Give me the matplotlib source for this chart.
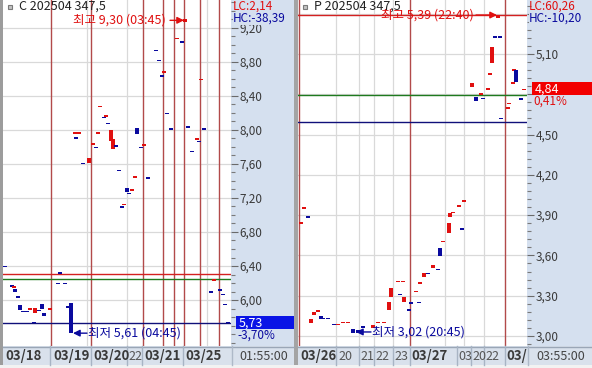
import matplotlib
matplotlib.use('Agg')
import matplotlib.pyplot as plt
from matplotlib.patches import Rectangle
from matplotlib.ticker import MultipleLocator, FixedLocator, FuncFormatter, NullLocator
from matplotlib.transforms import blended_transform_factory
from matplotlib.lines import Line2D

plt.rcParams['font.family'] = ['Noto Sans CJK KR', 'DejaVu Sans']

# ---------------- DATA ----------------
# Call option C 202504 347.5 (bar index, open, close)
call_title = "C 202504 347,5"
call_bar = [2, 9, 11, 12, 15, 17, 20, 24, 27, 31, 32, 36, 39, 41, 47, 55, 57, 62, 65, 68,
            72, 73, 76, 80, 86, 90, 93, 95, 97, 101, 103, 105, 108, 110, 113, 116, 119, 121,
            124, 126, 129, 132, 134, 138, 141, 145, 153, 156, 159, 161, 164, 168, 174, 179,
            182, 185, 189, 194, 196, 198, 201, 208, 211, 217, 220, 222, 225]
call_open = [6.40, 6.17, 6.15, 6.13, 6.04, 5.94, 5.87, 5.87, 5.89, 5.74, 5.85, 5.88, 5.95, 5.85,
             5.89, 6.20, 6.32, 6.20, 5.92, 5.96,
             7.96, 7.91, 7.96, 7.61, 7.61, 7.83, 7.80, 7.96, 8.27, 8.15, 8.16, 8.08, 7.87, 7.78,
             7.82, 7.53, 7.10, 7.12, 7.32, 7.26, 7.29, 7.44, 8.02, 7.80, 7.82, 7.44, 8.94, 8.82,
             8.64, 8.68, 8.20, 8.02, 9.07, 9.04, 9.27, 8.04, 7.75, 7.89, 7.87, 8.59, 8.02, 6.10,
             6.23, 6.12, 6.07, 5.95, 5.74]
call_close = [6.39, 6.16, 6.16, 6.10, 6.03, 5.88, 5.86, 5.86, 5.90, 5.73, 5.91, 5.87, 5.90, 5.81,
              5.90, 6.19, 6.31, 6.19, 5.91, 5.61,
              7.97, 7.90, 7.97, 7.60, 7.67, 7.84, 7.79, 7.97, 8.28, 8.14, 8.17, 8.07, 8.00, 7.89,
              7.81, 7.52, 7.09, 7.13, 7.27, 7.25, 7.30, 7.45, 7.95, 7.79, 7.83, 7.43, 8.93, 8.81,
              8.63, 8.69, 8.19, 8.01, 9.08, 9.03, 9.30, 8.03, 7.74, 7.90, 7.86, 8.60, 8.01, 6.09,
              6.24, 6.11, 6.06, 5.94, 5.73]
call_session_lines = [48, 88, 140, 160, 171, 181, 197, 216]
call_grid_x = [84, 124, 204]
call_red_level, call_green_level, call_navy_level = 6.305, 6.245, 5.73
call_high, call_high_bar, call_high_time = 9.30, 182, "03:45"
call_low, call_low_bar, call_low_time = 5.61, 68, "04:45"
call_last, call_change = 5.73, "-3,70%"
call_lc, call_hc = "LC:2,14", "HC:-38,39"
call_time = "01:55:00"
call_xlabels = [("03/18", 2, True), ("03/19", 50, True), ("03/20", 90, True),
                ("22", 125, False), ("03/21", 141, True), ("03/25", 182, True)]
call_xseps = [47, 88, 124, 139, 180]

# Put option P 202504 347.5
put_title = "P 202504 347,5"
put_bar = [3, 6, 10, 13, 16, 20, 23, 25, 30, 36, 40, 45, 50, 55, 60, 65, 75, 80, 86, 91, 93,
           100, 102, 105, 106, 111, 113, 118, 121, 122, 126, 130, 135, 140, 142, 145, 151, 152,
           155, 161, 164, 166, 174, 178, 183, 185, 190, 192, 194, 197, 200, 202, 203, 210, 211,
           215, 216, 218, 223, 226]
put_open = [3.835, 3.95, 3.89, 3.10, 3.16, 3.18, 3.15, 3.135, 3.135, 3.09, 3.08, 3.095, 3.095,
            3.05, 3.045, 3.07, 3.06, 3.095, 3.095, 3.19, 3.29,
            3.40, 3.315, 3.40, 3.25, 3.20, 3.25, 3.325, 3.255, 3.39, 3.44, 3.47, 3.505, 3.50,
            3.655, 3.70, 3.77, 3.885, 3.915, 3.965, 3.80, 4.00, 4.855, 4.78, 4.795, 4.775,
            4.835, 4.945, 5.03, 5.23, 5.37, 5.23, 4.625, 4.695, 4.725, 4.88, 4.975, 4.98, 4.77,
            4.83]
put_close = [3.845, 3.96, 3.88, 3.13, 3.18, 3.19, 3.13, 3.125, 3.125, 3.08, 3.09, 3.105, 3.105,
             3.02, 3.02, 3.06, 3.08, 3.105, 3.105, 3.25, 3.36,
             3.41, 3.305, 3.41, 3.29, 3.19, 3.24, 3.335, 3.245, 3.40, 3.47, 3.46, 3.53, 3.49,
             3.595, 3.71, 3.84, 3.915, 3.925, 3.975, 3.79, 4.01, 4.885, 4.75, 4.805, 4.765,
             4.845, 4.955, 5.15, 5.22, 5.39, 5.22, 4.615, 4.705, 4.735, 4.89, 4.985, 4.89, 4.76,
             4.84]
put_session_lines = [1, 112, 207]
put_grid_x = [38, 61, 76, 95, 147, 166, 186]
put_red_level, put_green_level, put_navy_level = 5.39, 4.795, 4.595
put_high, put_high_bar, put_high_time = 5.39, 200, "22:40"
put_low, put_low_bar, put_low_time = 3.02, 60, "20:45"
put_last, put_change = 4.84, "0,41%"
put_lc, put_hc = "LC:60,26", "HC:-10,20"
put_time = "03:55:00"
put_xlabels = [("03/26", 2, True), ("20", 40, False), ("21", 62, False), ("22", 77, False),
               ("23", 96, False), ("03/27", 113, True), ("03", 160, False), ("20", 174, False),
               ("22", 187, False), ("03/", 208, True)]
put_xseps = [38, 61, 76, 95, 112, 159, 173, 186, 207]

# ---------------- STYLE / LAYOUT ----------------
W, H = 592, 368
RED = '#E01010'
NAVY = '#0A0A9E'
SESSION = '#B24A4A'
GRID = '#D9D9D9'
STRIP = '#D5E0EF'
BSTRIP = '#D9E1EC'

def fx(px):
    return px / W

def fy(py):
    return 1 - py / H

fig = plt.figure(figsize=(W / 100, H / 100), dpi=100)
fig.patch.set_facecolor('#EFEFEF')

def frect(x0, y0, x1, y1, color, z=-1, ec='none', lw=0):
    fig.patches.append(Rectangle((fx(x0), fy(y1)), fx(x1) - fx(x0), fy(y0) - fy(y1),
                                 transform=fig.transFigure, facecolor=color,
                                 edgecolor=ec, linewidth=lw, zorder=z))

def fline(x0, y0, x1, y1, color, lw=1, z=-0.5):
    fig.lines.append(Line2D([fx(x0), fx(x1)], [fy(y0), fy(y1)], transform=fig.transFigure,
                            color=color, linewidth=lw, zorder=z))

PLOT_BOTTOM = 346
panels = [(3, 231, 294), (298, 527, 592)]
for x0, x1, x2 in panels:
    frect(x1, 0, x2, PLOT_BOTTOM, STRIP)
    frect(x0, PLOT_BOTTOM, x2, 365, BSTRIP)
    fline(x0, PLOT_BOTTOM + 0.5, x2, PLOT_BOTTOM + 0.5, '#9AA6B6', 1)
    fline(x1 + 0.5, PLOT_BOTTOM, x1 + 0.5, 365, '#AEB9C8', 1)
frect(0, 0, 3, 368, '#9C9C9C')
frect(294, 0, 298, 368, '#A4A4A4')
frect(0, 365, 592, 368, '#F2F2F2')

def comma(v, nd=2):
    return f"{v:.{nd}f}".replace('.', ',')

def make_panel(x0, x1, xmax, ylim, major, minor, bars, opens, closes, sessions, gridx,
               levels, hi, hi_bar, hi_time, lo, lo_bar, lo_time, hi_geom, lo_geom,
               title, title_px, lc, hc, last, change, box_color, change_color,
               xlabels, xseps, tlabel, strip_x1, hidden_labels):
    ax = fig.add_axes([fx(x0), fy(PLOT_BOTTOM), fx(x1) - fx(x0), fy(0) - fy(PLOT_BOTTOM)])
    ax.set_facecolor('white')
    ax.set_xlim(0, xmax)
    ax.set_ylim(*ylim)
    for s in ax.spines.values():
        s.set_visible(False)
    ax.xaxis.set_major_locator(NullLocator())
    ax.yaxis.tick_right()
    ticks = []
    t = major[0]
    while t <= major[1] + 1e-9:
        ticks.append(round(t, 4))
        t += major[2]
    ax.yaxis.set_major_locator(FixedLocator(ticks))
    ax.yaxis.set_minor_locator(MultipleLocator(minor))
    ax.yaxis.set_major_formatter(FuncFormatter(
        lambda v, p: '' if any(abs(v - h) < 1e-6 for h in hidden_labels) else comma(v)))
    ax.tick_params(axis='y', which='major', direction='out', length=5, width=0.8,
                   colors='#6A6A6A', labelcolor='#3A3A3A', labelsize=8.5, pad=1)
    ax.tick_params(axis='y', which='minor', direction='out', length=3, width=0.8,
                   colors='#7A7A7A')
    for tv in ticks:
        ax.axhline(tv, color=GRID, lw=0.9, zorder=1)
    for gx in gridx:
        ax.axvline(gx, color=GRID, lw=0.9, zorder=1)
    for sx in sessions:
        ax.axvline(sx, color=SESSION, lw=1, zorder=2)
    ax.axhline(levels[0], color='#D42020', lw=1, zorder=3)
    ax.axhline(levels[1], color='#1E7A1E', lw=1, zorder=3)
    ax.axhline(levels[2], color='#10107A', lw=1, zorder=3)

    unit = (ylim[1] - ylim[0]) / PLOT_BOTTOM
    bott, hts, cols = [], [], []
    for o, c in zip(opens, closes):
        lo_v, hi_v = min(o, c), max(o, c)
        h = max(hi_v - lo_v, unit * 1.6)
        mid = (lo_v + hi_v) / 2
        bott.append(mid - h / 2)
        hts.append(h)
        cols.append(RED if c >= o else NAVY)
    ax.bar(bars, hts, bottom=bott, width=3.6, color=cols, linewidth=0, zorder=5)

    # high / low annotations
    hx, hy, harr, htxt = hi_geom
    ax.annotate('', xy=(hi_bar + hx, hi + hy), xytext=(harr, 0), textcoords='offset pixels',
                arrowprops=dict(arrowstyle='-|>', color=RED, lw=1, mutation_scale=10,
                                shrinkA=0, shrinkB=0), zorder=6)
    ax.annotate(f"최고 {comma(hi)} ({hi_time})", xy=(hi_bar + hx, hi + hy),
                xytext=(htxt, 0), textcoords='offset pixels', ha='right', va='center',
                color=RED, fontsize=9, zorder=6)
    lx, ly, larr, ltxt = lo_geom
    ax.annotate('', xy=(lo_bar + lx, lo + ly), xytext=(larr, 0), textcoords='offset pixels',
                arrowprops=dict(arrowstyle='-|>', color=NAVY, lw=1, mutation_scale=10,
                                shrinkA=0, shrinkB=0), zorder=6)
    ax.annotate(f"최저 {comma(lo)} ({lo_time})", xy=(lo_bar + lx, lo + ly),
                xytext=(ltxt, 0), textcoords='offset pixels', ha='left', va='center',
                color=NAVY, fontsize=9, zorder=6)

    # title
    fig.patches.append(Rectangle((fx(title_px - 11), fy(9)), 4 / W, 4 / H,
                                 transform=fig.transFigure, facecolor='#C4C4C4',
                                 edgecolor='#7A7A7A', linewidth=0.8, zorder=4))
    fig.text(fx(title_px), fy(6.5), title, color='#222222', fontsize=9, ha='left', va='center')

    # LC / HC
    fig.text(fx(x1 + 2), fy(6), lc, color=RED, fontsize=8.5, ha='left', va='center')
    fig.text(fx(x1 + 2), fy(18.5), hc, color=NAVY, fontsize=8.5, ha='left', va='center',
             bbox=dict(facecolor=STRIP, edgecolor='none', pad=0.1))

    # last price box
    ypix = ax.transData.transform((0, last))[1]
    yb = ypix / H
    fig.patches.append(Rectangle((fx(x1 + 5), yb - 6.5 / H), fx(strip_x1) - fx(x1 + 5), 13 / H,
                                 transform=fig.transFigure, facecolor=box_color,
                                 edgecolor='none', zorder=4))
    fig.text(fx(x1 + 8), yb, comma(last), color='white', fontsize=9, ha='left',
             va='center', zorder=5)
    fig.text(fx(x1 + 6), yb - 12.5 / H, change, color=change_color, fontsize=8.5, ha='left',
             va='center', zorder=5)

    # bottom strip labels
    tr = blended_transform_factory(ax.transData, fig.transFigure)
    for lab, bx, bold in xlabels:
        fig.text(bx, fy(356), lab, transform=tr, fontsize=9.5 if bold else 9,
                 fontweight='bold' if bold else 'normal',
                 color='#3A3A3A' if bold else '#555555', ha='left', va='center', zorder=3)
    for sx in xseps:
        fig.lines.append(Line2D([sx, sx], [fy(365), fy(PLOT_BOTTOM)], transform=tr,
                                color='#A8B4C4', lw=1, zorder=2))
    fig.text(fx((x1 + strip_x1) / 2 + 1), fy(356), tlabel, fontsize=9, color='#444444',
             ha='center', va='center')
    return ax

make_panel(3, 231, 228, (5.459, 9.529), (6.0, 9.2, 0.4), 0.1,
           call_bar, call_open, call_close, call_session_lines, call_grid_x,
           (call_red_level, call_green_level, call_navy_level),
           call_high, call_high_bar, call_high_time, call_low, call_low_bar, call_low_time,
           (-1, -0.01, -14, -18), (2, 0.0, 14, 15),
           call_title, 19, call_lc, call_hc, call_last, call_change, '#0A14E6', NAVY,
           call_xlabels, call_xseps, call_time, 294, [5.6])

make_panel(298, 527, 229, (2.9255, 5.502), (3.0, 5.4, 0.3), 0.06,
           put_bar, put_open, put_close, put_session_lines, put_grid_x,
           (put_red_level, put_green_level, put_navy_level),
           put_high, put_high_bar, put_high_time, put_low, put_low_bar, put_low_time,
           (-1, 0.0, -21, -23), (-2, 0.01, 15, 16),
           put_title, 314, put_lc, put_hc, put_last, put_change, '#F20000', RED,
           put_xlabels, put_xseps, put_time, 592, [4.8, 5.4])

fig.savefig('out.png', dpi=100, facecolor=fig.get_facecolor())
